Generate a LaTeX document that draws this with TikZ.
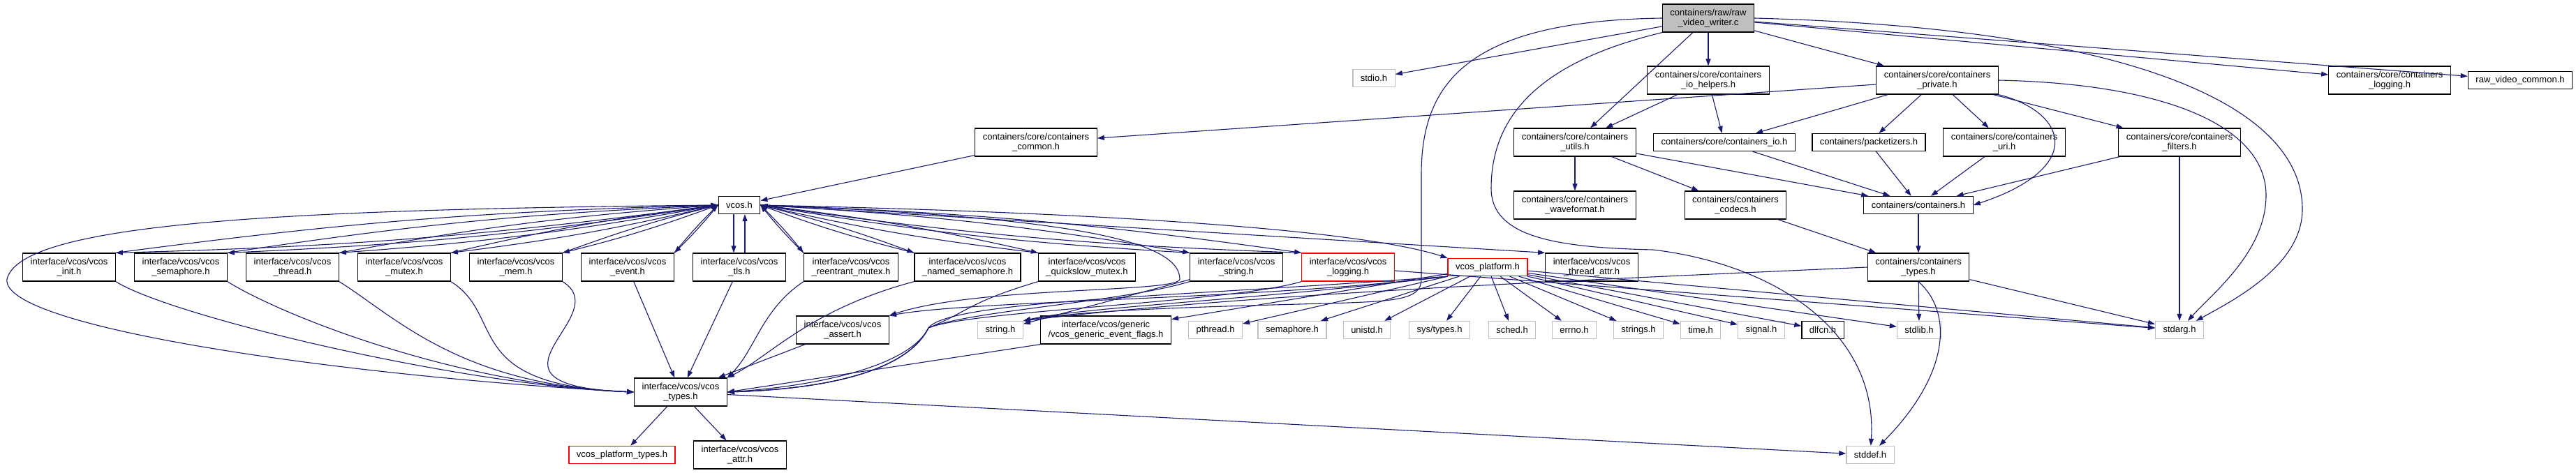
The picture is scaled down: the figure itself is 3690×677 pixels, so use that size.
\documentclass[tikz,border=0pt]{standalone}
\usepackage{fontspec}
\setmainfont{Liberation Sans}
\usetikzlibrary{arrows.meta}
\definecolor{edgeblue}{HTML}{191970}
\definecolor{sysgrey}{HTML}{BFBFBF}
\tikzset{
    dep graph/.style = {x=1pt, y=1pt, >={Triangle[length=10pt,width=7pt]}},
    hdr/.style       = {draw, line width=1.3pt, fill=white, align=center,
                        inner xsep=11pt, inner ysep=2pt, minimum height=25pt,
                        font=\fontsize{13}{14}\selectfont},
    hhdr/.style      = {hdr, minimum height=40pt},
    syshdr/.style    = {hdr, draw=sysgrey},
    redhdr/.style    = {hdr, draw=red},
    hredhdr/.style   = {hhdr, draw=red},
    roothdr/.style   = {hhdr, fill=sysgrey},
    dep/.style       = {->, draw=edgeblue, line width=1.1pt},
}
\def\rowA{-26}
\def\rowB{-115}
\def\rowC{-204}
\def\rowD{-294}
\def\rowE{-383}
\def\rowF{-473}
\def\rowG{-562}
\def\rowH{-652}

\begin{document}
\begin{tikzpicture}[dep graph]
\useasboundingbox (0,0) rectangle (3690,-677);

% ================= containers files =================
\node[roothdr] (root) at (2447,\rowA) {containers/raw/raw\\\_video\_writer.c};

\node[syshdr] (stdio)     at (1968,-112) {stdio.h};
\node[hhdr]   (iohelp)    at (2447,\rowB) {containers/core/containers\\\_io\_helpers.h};
\node[hhdr]   (priv)      at (2775,\rowB) {containers/core/containers\\\_private.h};
\node[hhdr]   (clog)      at (3423,\rowB) {containers/core/containers\\\_logging.h};
\node[hdr]    (rawcommon) at (3610,\rowB) {raw\_video\_common.h};

\node[hhdr] (ccommon) at (1484,\rowC) {containers/core/containers\\\_common.h};
\node[hhdr] (utils)   at (2256,\rowC) {containers/core/containers\\\_utils.h};
\node[hdr]  (cio)     at (2470,\rowC) {containers/core/containers\_io.h};
\node[hdr]  (packet)  at (2677,\rowC) {containers/packetizers.h};
\node[hhdr] (curi)    at (2871,\rowC) {containers/core/containers\\\_uri.h};
\node[hhdr] (cfilt)   at (3122,\rowC) {containers/core/containers\\\_filters.h};

\node[hdr]  (vcos)    at (1059,\rowD) {vcos.h};
\node[hhdr] (wavefmt) at (2256,\rowD) {containers/core/containers\\\_waveformat.h};
\node[hhdr] (codecs)  at (2486,\rowD) {containers/containers\\\_codecs.h};
\node[hdr]  (cont)    at (2748,\rowD) {containers/containers.h};

% ================= vcos headers =================
\node[hhdr] (vinit)     at (99,\rowE)   {interface/vcos/vcos\\\_init.h};
\node[hhdr] (vsem)      at (259,\rowE)  {interface/vcos/vcos\\\_semaphore.h};
\node[hhdr] (vthread)   at (419,\rowE)  {interface/vcos/vcos\\\_thread.h};
\node[hhdr] (vmutex)    at (579,\rowE)  {interface/vcos/vcos\\\_mutex.h};
\node[hhdr] (vmem)      at (739,\rowE)  {interface/vcos/vcos\\\_mem.h};
\node[hhdr] (vevent)    at (899,\rowE)  {interface/vcos/vcos\\\_event.h};
\node[hhdr] (vtls)      at (1059,\rowE) {interface/vcos/vcos\\\_tls.h};
\node[hhdr] (vremutex)  at (1219,\rowE) {interface/vcos/vcos\\\_reentrant\_mutex.h};
\node[hhdr] (vnamedsem) at (1386,\rowE) {interface/vcos/vcos\\\_named\_semaphore.h};
\node[hhdr] (vqsmutex)  at (1557,\rowE) {interface/vcos/vcos\\\_quickslow\_mutex.h};
\node[hhdr] (vstring)   at (1771,\rowE) {interface/vcos/vcos\\\_string.h};
\node[hredhdr] (vlog)   at (1931,\rowE) {interface/vcos/vcos\\\_logging.h};
\node[redhdr]  (vplat)  at (2131,\rowE) {vcos\_platform.h};
\node[hhdr] (vtattr)    at (2280,\rowE) {interface/vcos/vcos\\\_thread\_attr.h};
\node[hhdr] (ctypes)    at (2748,\rowE) {containers/containers\\\_types.h};

% ================= system headers =================
\node[hhdr]   (vassert)   at (1207,\rowF) {interface/vcos/vcos\\\_assert.h};
\node[syshdr] (stringh)   at (1433,\rowF) {string.h};
\node[hhdr]   (vgevflags) at (1584,\rowF) {interface/vcos/generic\\/vcos\_generic\_event\_flags.h};
\node[syshdr] (pthread)   at (1741,\rowF) {pthread.h};
\node[syshdr] (semaph)    at (1851,\rowF) {semaphore.h};
\node[syshdr] (unistd)    at (1958,\rowF) {unistd.h};
\node[syshdr] (systypes)  at (2062,\rowF) {sys/types.h};
\node[syshdr] (sched)     at (2166,\rowF) {sched.h};
\node[syshdr] (errno)     at (2255,\rowF) {errno.h};
\node[syshdr] (strings)   at (2347,\rowF) {strings.h};
\node[syshdr] (timeh)     at (2436,\rowF) {time.h};
\node[syshdr] (signal)    at (2523,\rowF) {signal.h};
\node[hdr]    (dlfcn)     at (2611,\rowF) {dlfcn.h};
\node[syshdr] (stdlib)    at (2749,\rowF) {stdlib.h};
\node[syshdr] (stdarg)    at (3122,\rowF) {stdarg.h};

\node[hhdr]    (vtypes)     at (975,\rowG)  {interface/vcos/vcos\\\_types.h};
\node[redhdr]  (vplattypes) at (891,\rowH)  {vcos\_platform\_types.h};
\node[hhdr]    (vattr)      at (1060,\rowH) {interface/vcos/vcos\\\_attr.h};
\node[syshdr]  (stddef)     at (2679,\rowH) {stddef.h};

% ================= root includes =================
\foreach \n in {stdio,iohelp,priv,utils,clog,rawcommon}
    \draw[dep] (root) -- (\n);
\draw[dep] (root.west) .. controls (2100,-30) and (2036,-120) .. (2036,-250)
           -- (2036,-400) .. controls (2036,-430) and (2000,-432) .. (1900,-435)
           .. controls (1700,-440) and (1550,-445) .. (stringh.north east);
\draw[dep] (root.south west) .. controls (2200,-90) and (2136,-170) .. (2136,-270)
           .. controls (2136,-340) and (2230,-355) .. (2368,-358)
           .. controls (2550,-380) and (2690,-480) .. (stddef);
\draw[dep] (root.east) .. controls (3050,-40) and (3298,-150) .. (3298,-300)
           .. controls (3298,-380) and (3200,-430) .. (stdarg);

% ================= containers includes =================
\draw[dep] (iohelp) -- (utils);
\draw[dep] (iohelp) -- (cio);
\foreach \n in {ccommon,cio,packet,curi,cfilt}
    \draw[dep] (priv) -- (\n);
\draw[dep] (priv.south east) .. controls (2960,-160) and (2990,-240) .. (cont.east);
\draw[dep] (priv.east) .. controls (3100,-120) and (3246,-180) .. (3246,-280)
           .. controls (3246,-360) and (3170,-420) .. (stdarg);
\foreach \n in {wavefmt,codecs,cont}
    \draw[dep] (utils) -- (\n);
\foreach \n in {cio,packet,curi,cfilt}
    \draw[dep] (\n) -- (cont);
\draw[dep] (cfilt) -- (stdarg);
\draw[dep] (codecs) -- (ctypes);
\draw[dep] (cont) -- (ctypes);
\draw[dep] (ctypes) -- (stdlib);
\draw[dep] (ctypes) -- (stdarg);
\draw[dep] (ctypes.south) .. controls (2800,-450) and (2790,-540) .. (stddef);
\draw[dep] (ctypes.west) .. controls (2300,-400) and (1800,-420) .. (stringh.north east);
\draw[dep] (ccommon) -- (vcos);

% ================= vcos includes (both ways) =================
\foreach \n in {vinit,vsem,vthread,vmutex,vmem,vevent} {
    \draw[dep] (vcos.west) to[bend left=3] (\n.north east);
    \draw[dep] (\n.north east) to[bend left=3] (vcos.west);
}
\draw[dep] ([xshift=-8pt]vcos.south) -- ([xshift=-8pt]vtls.north);
\draw[dep] ([xshift=8pt]vtls.north) -- ([xshift=8pt]vcos.south);
\foreach \n in {vremutex,vnamedsem,vqsmutex,vstring,vlog} {
    \draw[dep] (vcos.east) to[bend left=3] (\n.north west);
    \draw[dep] (\n.north west) to[bend left=3] (vcos.east);
}
\draw[dep] (vcos.east) .. controls (1600,-305) and (1950,-330) .. (vplat.north west);
\draw[dep] (vcos.east) -- (vtattr.north west);
\draw[dep] (vcos.east) .. controls (1500,-310) and (1690,-340) .. (1690,-400)
           .. controls (1690,-420) and (1400,-410) .. (vassert.north east);
\draw[dep] (vcos.west) .. controls (400,-300) and (30,-320) .. (10,-400)
           .. controls (0,-470) and (500,-540) .. (vtypes.west);

% ================= into vcos_types.h =================
\foreach \n in {vinit,vsem,vthread,vmutex,vmem}
    \draw[dep] (\n.south east) .. controls +(80,-50) and +(-250,10) .. (vtypes.west);
\foreach \n in {vevent,vtls,vassert}
    \draw[dep] (\n) -- (vtypes);
\draw[dep] (vremutex.south west) .. controls +(-60,-40) and +(40,40) .. (vtypes.north east);
\draw[dep] (vnamedsem.south west) .. controls +(-150,-40) and +(60,30) .. (vtypes.north east);
\foreach \n in {vqsmutex,vstring,vlog}
    \draw[dep] (\n.south west) .. controls +(-100,-30) and +(60,25) .. (1330,-470)
               .. controls +(-30,-60) and +(150,5) .. (vtypes.east);
\draw[dep] (vgevflags.south west) -- (vtypes.east);
\draw[dep] (vstring) -- (stringh);
\draw[dep] (vlog) -- (stdarg);

% ================= vcos_platform.h =================
\draw[dep] (vplat.south west) .. controls (1800,-430) and (1400,-430) .. (vassert.north east);
\draw[dep] (vplat.south west) .. controls (1800,-430) and (1550,-440) .. (stringh.north east);
\draw[dep] (vplat.south west) .. controls (1700,-425) and (1360,-430) .. (1330,-470)
           .. controls (1300,-530) and (1150,-555) .. (vtypes.east);
\foreach \n in {vgevflags,pthread,semaph,unistd,systypes,sched,errno,strings,timeh,signal,dlfcn,stdlib,stdarg}
    \draw[dep] (vplat) -- (\n);

% ================= vcos_types.h =================
\draw[dep] (vtypes) -- (vplattypes);
\draw[dep] (vtypes) -- (vattr);
\draw[dep] (vtypes) -- (stddef);

\end{tikzpicture}
\end{document}
